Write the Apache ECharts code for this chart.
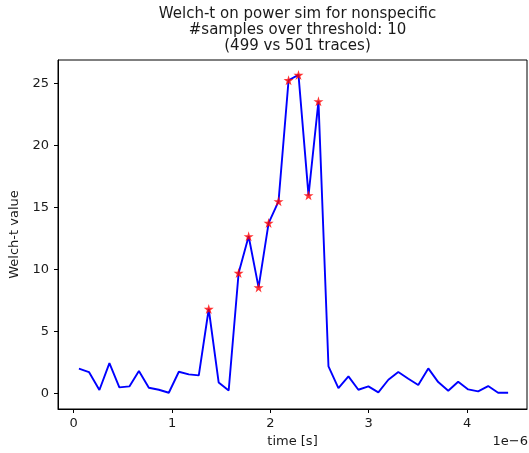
<!DOCTYPE html>
<html>
<head>
<meta charset="utf-8">
<script src="https://cdn.jsdelivr.net/npm/echarts@6/dist/echarts.min.js"></script>
<style>html,body{margin:0;padding:0;background:#fff}#c{width:529px;height:453px}</style>
</head>
<body>
<div id="c"></div>
<script>
// time in units of 1e-6 s
const times = [0.053,0.155,0.261,0.363,0.464,0.566,0.663,0.764,0.866,0.967,1.069,1.170,1.272,1.373,1.474,1.576,1.677,1.779,1.880,1.982,2.083,2.185,2.286,2.388,2.489,2.591,2.692,2.794,2.895,2.997,3.098,3.200,3.301,3.403,3.504,3.606,3.707,3.809,3.910,4.012,4.113,4.215,4.316,4.418];
const welchT = [2.02,1.75,0.30,2.47,0.51,0.59,1.83,0.48,0.32,0.08,1.77,1.56,1.48,6.83,0.91,0.27,9.73,12.69,8.57,13.76,15.51,25.27,25.70,15.99,23.57,2.20,0.46,1.40,0.32,0.59,0.11,1.13,1.75,1.21,0.70,2.04,0.94,0.24,0.97,0.35,0.19,0.62,0.08,0.08];
const threshold = 4.5;
const xTicks = [0,1,2,3,4];
const yTicks = [0,5,10,15,20,25];
const titleLines = ['Welch-t on power sim for nonspecific','#samples over threshold: 10','(499 vs 501 traces)'];

const lineData = times.map((t,i)=>[t,welchT[i]]);
const starData = lineData.filter(d=>d[1]>threshold);
const star = 'path://M50,0 L61,35 L98,35 L68,57 L79,91 L50,70 L21,91 L32,57 L2,35 L39,35 Z';
const font = 'DejaVu Sans';
const txt = '#1a1a1a';
const chart = echarts.init(document.getElementById('c'));
chart.setOption({
  animation:false,
  backgroundColor:'#fff',
  title:{text:titleLines.join('\n'),left:292.5,top:1,textAlign:'center',
    textStyle:{fontFamily:font,fontSize:15,fontWeight:'normal',color:txt,lineHeight:16.2}},
  grid:{left:58,top:60,right:2,bottom:44,show:true,borderColor:'#000',borderWidth:1,containLabel:false},
  xAxis:{type:'value',min:-0.16,max:4.61,
    name:'time [s]',nameLocation:'middle',nameGap:26,
    nameTextStyle:{fontFamily:font,fontSize:13,color:txt},
    axisLine:{show:true,onZero:false,lineStyle:{color:'#000',width:1}},
    axisTick:{show:true,length:4,customValues:xTicks,lineStyle:{color:'#000'}},
    axisLabel:{customValues:xTicks,fontFamily:font,fontSize:13,color:txt,margin:8},
    splitLine:{show:false}},
  yAxis:{type:'value',min:-1.23,max:26.9,
    name:'Welch-t value',nameLocation:'middle',nameGap:33,nameRotate:90,
    nameTextStyle:{fontFamily:font,fontSize:13,color:txt},
    axisLine:{show:true,onZero:false,lineStyle:{color:'#000',width:1}},
    axisTick:{show:true,length:4,customValues:yTicks,lineStyle:{color:'#000'}},
    axisLabel:{customValues:yTicks,fontFamily:font,fontSize:13,color:txt,margin:9},
    splitLine:{show:false}},
  graphic:[{type:'text',right:1,top:435,style:{text:'1e\u22126',font:'13px "DejaVu Sans"',fill:txt}}],
  series:[
    {type:'line',data:lineData,symbol:'none',lineStyle:{color:'#0000ff',width:1.9},z:2},
    {type:'scatter',data:starData,symbol:star,symbolSize:10,itemStyle:{color:'#ff0000'},z:3}
  ]
});
</script>
</body>
</html>
